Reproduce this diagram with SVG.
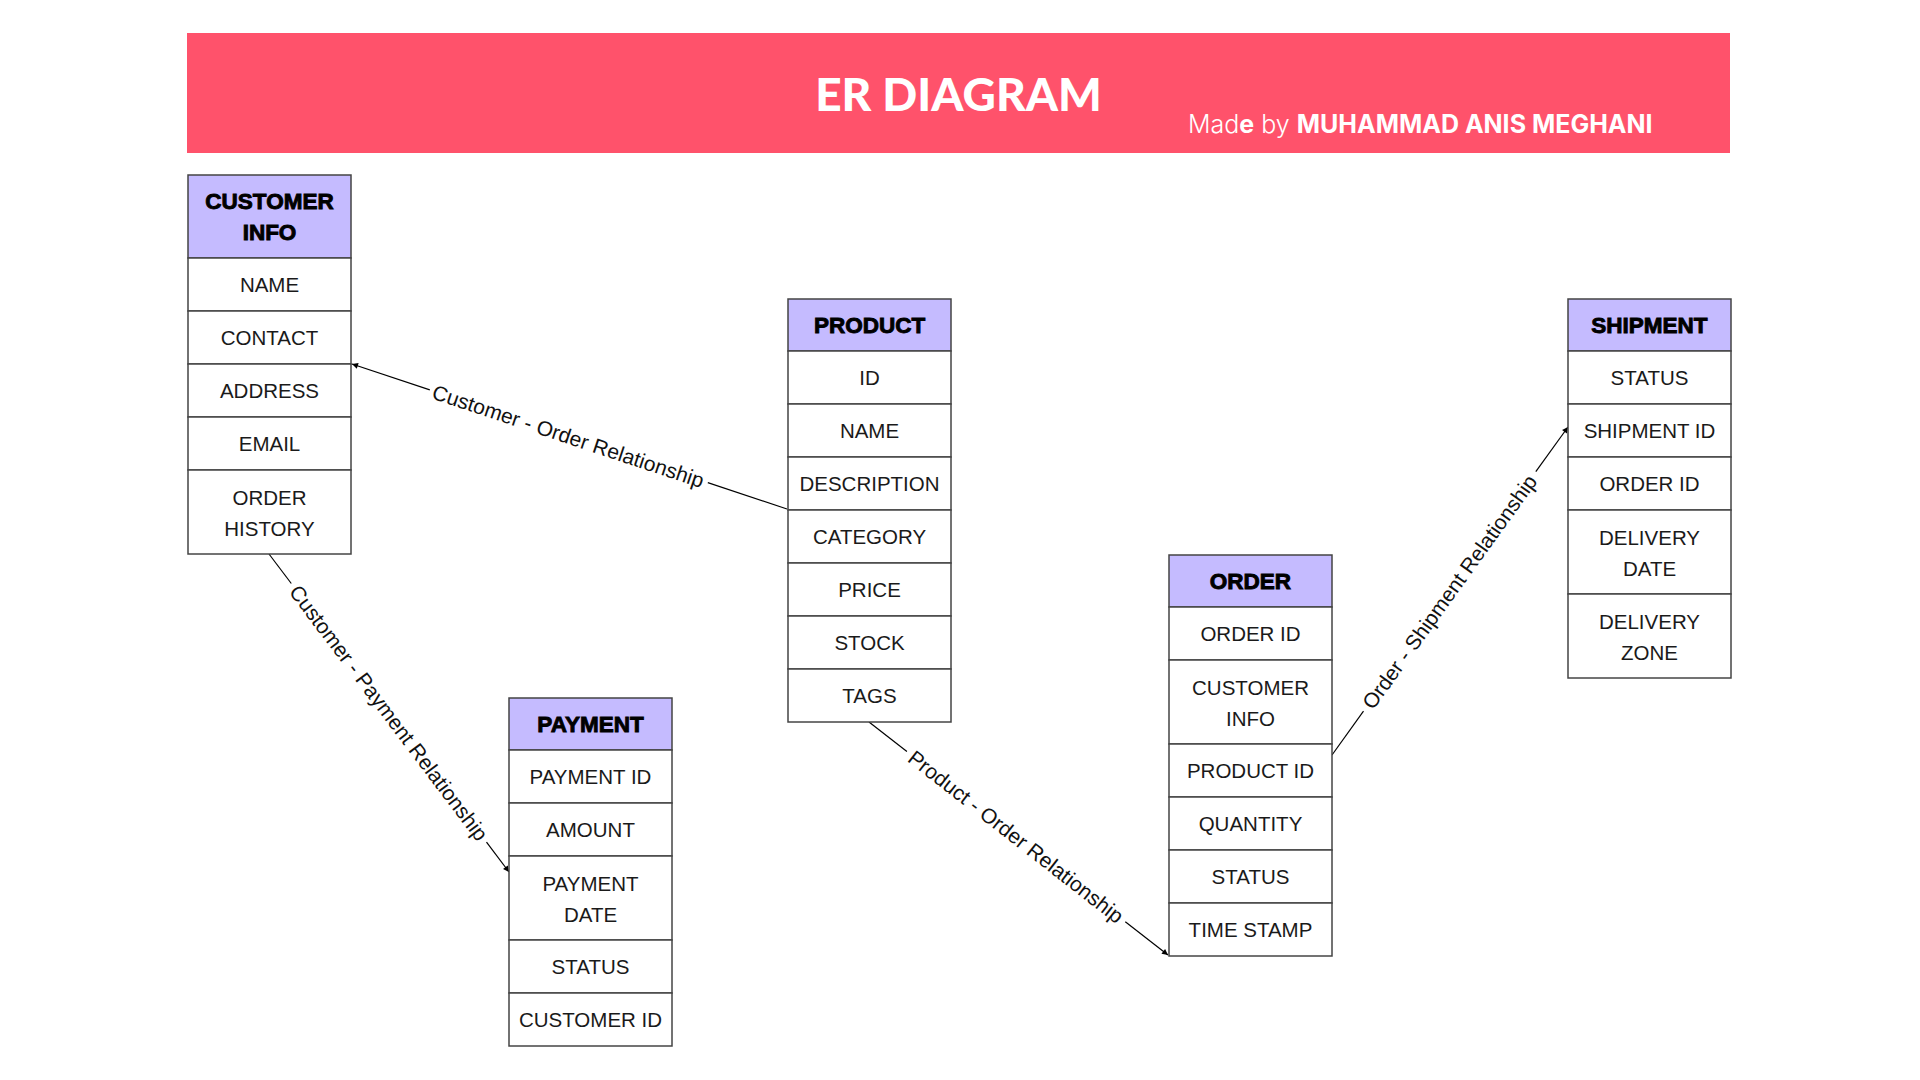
<svg xmlns="http://www.w3.org/2000/svg" width="1920" height="1080" viewBox="0 0 1920 1080">
<defs>
<style>
.bg{fill:#ffffff}
.banner{fill:#FF526B}
.title{font-family:Lato,"Liberation Sans",sans-serif;font-weight:900;font-size:46px;fill:#ffffff;text-anchor:middle}
.credit{font-family:Inter,"Liberation Sans",sans-serif;font-size:25px;fill:#ffffff}
.hdr{fill:#C5BBFF;stroke:#444;stroke-width:1.5}
.row{fill:#ffffff;stroke:#444;stroke-width:1.5}
.ht{font-family:"Liberation Sans",Arial,sans-serif;font-weight:700;font-size:22.5px;fill:#000;stroke:#000;stroke-width:0.9;text-anchor:middle}
.ft{font-family:"Liberation Sans",Arial,sans-serif;font-size:20.5px;fill:#1a1a1a;text-anchor:middle}
.ln{stroke:#000;stroke-width:1.2;fill:none}
.lbl{font-family:"Liberation Sans",Arial,sans-serif;font-size:21px;fill:#111;text-anchor:middle;dominant-baseline:central}
</style>
<marker id="arr" viewBox="0 0 10 10" refX="10" refY="5" markerWidth="7" markerHeight="6" markerUnits="userSpaceOnUse" orient="auto">
<path d="M0,0 L10,5 L0,10 z" fill="#000"/>
</marker>
</defs>
<rect class="bg" x="0" y="0" width="1920" height="1080"/>
<g id="banner">
<rect class="banner" x="187" y="33" width="1543" height="120"/>
<text class="title" x="958.5" y="111">ER DIAGRAM</text>
<text class="credit" x="1188" y="133"><tspan font-weight="300">Mad</tspan><tspan font-weight="700">e</tspan><tspan font-weight="300"> by </tspan><tspan font-weight="700">MUHAMMAD ANIS MEGHANI</tspan></text>
</g>

<g id="connectors">
<line class="ln" x1="429.8" y1="389.9" x2="352" y2="364" marker-end="url(#arr)"/>
<line class="ln" x1="787" y1="509" x2="707.8" y2="482.6"/>
<text class="lbl" transform="translate(568.3,436.1) rotate(18.43)">Customer - Order Relationship</text>

<line class="ln" x1="269" y1="554" x2="291.3" y2="583.5"/>
<line class="ln" x1="486.5" y1="842.2" x2="509" y2="872" marker-end="url(#arr)"/>
<text class="lbl" transform="translate(388.9,712.8) rotate(52.96)">Customer - Payment Relationship</text>

<line class="ln" x1="869" y1="722" x2="906.9" y2="751.5"/>
<line class="ln" x1="1125.3" y1="921.7" x2="1168" y2="955" marker-end="url(#arr)"/>
<text class="lbl" transform="translate(1016.1,836.6) rotate(37.93)">Product - Order Relationship</text>

<line class="ln" x1="1332" y1="755" x2="1363.5" y2="711.2"/>
<line class="ln" x1="1535.8" y1="471.7" x2="1568" y2="427" marker-end="url(#arr)"/>
<text class="lbl" transform="translate(1449.4,591.8) rotate(-54.27)">Order - Shipment Relationship</text>
</g>

<g id="customer-info">
<rect class="hdr" x="188" y="175" width="163" height="83"/>
<text class="ht" x="269.5" y="209">CUSTOMER</text>
<text class="ht" x="269.5" y="240">INFO</text>
<rect class="row" x="188" y="258" width="163" height="53"/>
<text class="ft" x="269.5" y="292">NAME</text>
<rect class="row" x="188" y="311" width="163" height="53"/>
<text class="ft" x="269.5" y="345">CONTACT</text>
<rect class="row" x="188" y="364" width="163" height="53"/>
<text class="ft" x="269.5" y="398">ADDRESS</text>
<rect class="row" x="188" y="417" width="163" height="53"/>
<text class="ft" x="269.5" y="451">EMAIL</text>
<rect class="row" x="188" y="470" width="163" height="84"/>
<text class="ft" x="269.5" y="505">ORDER</text>
<text class="ft" x="269.5" y="536">HISTORY</text>
</g>

<g id="product">
<rect class="hdr" x="788" y="299" width="163" height="52"/>
<text class="ht" x="869.5" y="333">PRODUCT</text>
<rect class="row" x="788" y="351" width="163" height="53"/>
<text class="ft" x="869.5" y="385">ID</text>
<rect class="row" x="788" y="404" width="163" height="53"/>
<text class="ft" x="869.5" y="438">NAME</text>
<rect class="row" x="788" y="457" width="163" height="53"/>
<text class="ft" x="869.5" y="491">DESCRIPTION</text>
<rect class="row" x="788" y="510" width="163" height="53"/>
<text class="ft" x="869.5" y="544">CATEGORY</text>
<rect class="row" x="788" y="563" width="163" height="53"/>
<text class="ft" x="869.5" y="597">PRICE</text>
<rect class="row" x="788" y="616" width="163" height="53"/>
<text class="ft" x="869.5" y="650">STOCK</text>
<rect class="row" x="788" y="669" width="163" height="53"/>
<text class="ft" x="869.5" y="703">TAGS</text>
</g>

<g id="shipment">
<rect class="hdr" x="1568" y="299" width="163" height="52"/>
<text class="ht" x="1649.5" y="333">SHIPMENT</text>
<rect class="row" x="1568" y="351" width="163" height="53"/>
<text class="ft" x="1649.5" y="385">STATUS</text>
<rect class="row" x="1568" y="404" width="163" height="53"/>
<text class="ft" x="1649.5" y="438">SHIPMENT ID</text>
<rect class="row" x="1568" y="457" width="163" height="53"/>
<text class="ft" x="1649.5" y="491">ORDER ID</text>
<rect class="row" x="1568" y="510" width="163" height="84"/>
<text class="ft" x="1649.5" y="545">DELIVERY</text>
<text class="ft" x="1649.5" y="576">DATE</text>
<rect class="row" x="1568" y="594" width="163" height="84"/>
<text class="ft" x="1649.5" y="629">DELIVERY</text>
<text class="ft" x="1649.5" y="660">ZONE</text>
</g>

<g id="order">
<rect class="hdr" x="1169" y="555" width="163" height="52"/>
<text class="ht" x="1250.5" y="589">ORDER</text>
<rect class="row" x="1169" y="607" width="163" height="53"/>
<text class="ft" x="1250.5" y="641">ORDER ID</text>
<rect class="row" x="1169" y="660" width="163" height="84"/>
<text class="ft" x="1250.5" y="695">CUSTOMER</text>
<text class="ft" x="1250.5" y="726">INFO</text>
<rect class="row" x="1169" y="744" width="163" height="53"/>
<text class="ft" x="1250.5" y="778">PRODUCT ID</text>
<rect class="row" x="1169" y="797" width="163" height="53"/>
<text class="ft" x="1250.5" y="831">QUANTITY</text>
<rect class="row" x="1169" y="850" width="163" height="53"/>
<text class="ft" x="1250.5" y="884">STATUS</text>
<rect class="row" x="1169" y="903" width="163" height="53"/>
<text class="ft" x="1250.5" y="937">TIME STAMP</text>
</g>

<g id="payment">
<rect class="hdr" x="509" y="698" width="163" height="52"/>
<text class="ht" x="590.5" y="732">PAYMENT</text>
<rect class="row" x="509" y="750" width="163" height="53"/>
<text class="ft" x="590.5" y="784">PAYMENT ID</text>
<rect class="row" x="509" y="803" width="163" height="53"/>
<text class="ft" x="590.5" y="837">AMOUNT</text>
<rect class="row" x="509" y="856" width="163" height="84"/>
<text class="ft" x="590.5" y="891">PAYMENT</text>
<text class="ft" x="590.5" y="922">DATE</text>
<rect class="row" x="509" y="940" width="163" height="53"/>
<text class="ft" x="590.5" y="974">STATUS</text>
<rect class="row" x="509" y="993" width="163" height="53"/>
<text class="ft" x="590.5" y="1027">CUSTOMER ID</text>
</g>
</svg>
